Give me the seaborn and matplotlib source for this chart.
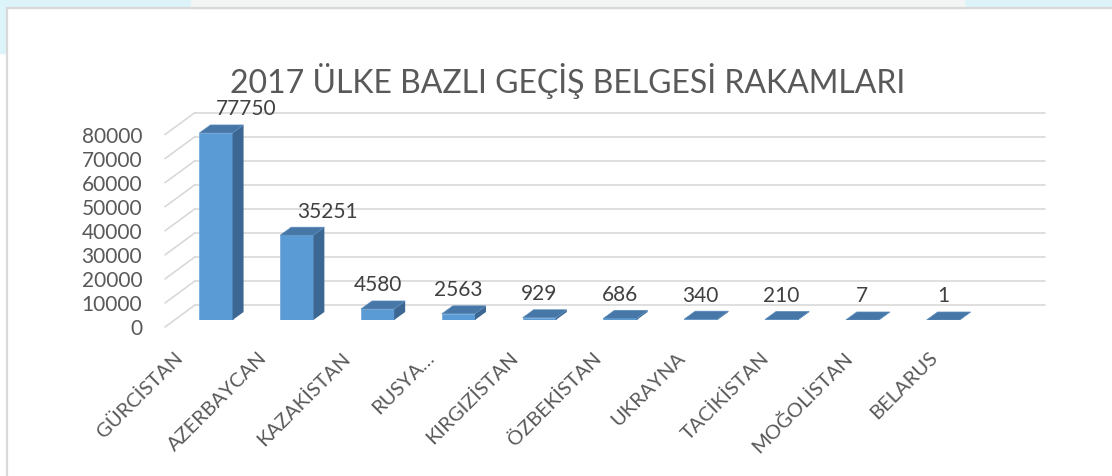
import pandas as pd
import seaborn as sns
import matplotlib.pyplot as plt
from matplotlib.patches import Polygon, Rectangle
from matplotlib.lines import Line2D
from matplotlib.transforms import ScaledTranslation

# chart data
countries = ["GÜRCİSTAN", "AZERBAYCAN", "KAZAKİSTAN", "RUSYA…", "KIRGIZİSTAN",
             "ÖZBEKİSTAN", "UKRAYNA", "TACİKİSTAN", "MOĞOLİSTAN", "BELARUS"]
counts = [77750, 35251, 4580, 2563, 929, 686, 340, 210, 7, 1]
yticks = [0, 10000, 20000, 30000, 40000, 50000, 60000, 70000, 80000]
title = "2017 ÜLKE BAZLI GEÇİŞ BELGESİ RAKAMLARI"

df = pd.DataFrame({"country": countries, "count": counts})

sns.set_theme(style="white")
plt.rcParams["font.family"] = ["Lato", "DejaVu Sans"]

W, H = 1112, 476
fig = plt.figure(figsize=(W / 100, H / 100), dpi=100)
fig.patch.set_facecolor("white")

# slide background strips + chart border
fig.patches.append(Rectangle((0, 1 - 8 / H), 1, 8 / H, transform=fig.transFigure,
                             color="#DDF3FA", zorder=0))
fig.patches.append(Rectangle((191 / W, 1 - 8 / H), (964 - 191) / W, 8 / H,
                             transform=fig.transFigure, color="#F3F5F5", zorder=0))
fig.patches.append(Rectangle((0, 1 - 53 / H), 6 / W, 45 / H, transform=fig.transFigure,
                             color="#DDF3FA", zorder=0))
fig.lines.append(Line2D([7 / W, 7 / W], [0, 1 - 7.5 / H], transform=fig.transFigure,
                        color="#D9D9D9", lw=1.6))
fig.lines.append(Line2D([7 / W, 1], [1 - 7.5 / H, 1 - 7.5 / H], transform=fig.transFigure,
                        color="#D9D9D9", lw=1.6))

# axes placed so the front plane of the bars sits where the original does
y0_px, ytop_px, xl_px, xr_px = 320, 103.5, 195, 1045
ax = fig.add_axes([xl_px / W, (H - y0_px) / H, (xr_px - xl_px) / W, (y0_px - ytop_px) / H])
ax.set_facecolor("none")

sns.barplot(data=df, x="country", y="count", color="#5B9BD5", saturation=1,
            width=0.41, ax=ax, zorder=3)
ax.set_xlim(-0.26, 10.26)
ax.set_ylim(0, 90000)

xpx = (xr_px - xl_px) / 10.52          # pixels per category
ypx = (y0_px - ytop_px) / 90000        # pixels per unit
ddx, ddy = 11 / xpx, 8 / ypx           # bar depth
gdy = 15 / ypx                         # back wall offset
xl = ax.get_xlim()[0]

# back wall gridlines and floor diagonals
for v in yticks:
    ax.plot([xl, ax.get_xlim()[1]], [v + gdy, v + gdy], color="#D9D9D9", lw=1.2,
            zorder=0, clip_on=False)
    ax.plot([xl - 30 / xpx, xl], [v - 7 / ypx, v + gdy], color="#D9D9D9", lw=1.2,
            zorder=0, clip_on=False)

# fake 3d: side and top faces from each bar
for i, (p, v) in enumerate(zip(ax.patches, counts)):
    p.set_edgecolor("#6FA8DC")
    p.set_linewidth(0.5)
    x0, w, h = p.get_x(), p.get_width(), p.get_height()
    top = [(x0, h), (x0 + w, h), (x0 + w + ddx, h + ddy), (x0 + ddx, h + ddy)]
    side = [(x0 + w, 0), (x0 + w + ddx, ddy), (x0 + w + ddx, h + ddy), (x0 + w, h)]
    ax.add_patch(Polygon(side, closed=True, facecolor="#3B6792", edgecolor="none", zorder=4))
    ax.add_patch(Polygon(top, closed=True, facecolor="#4677A7", edgecolor="#5A8CBD",
                         lw=0.5, zorder=4))
    # tall bars get their label pushed to the right, like the excel original
    shift = 22 if h > 20000 else 0
    ax.annotate(f"{v}", (x0 + w / 2, h), xytext=(shift, 17), textcoords="offset points",
                ha="center", va="center", fontsize=15, color="#404040")

for s in ax.spines.values():
    s.set_visible(False)
ax.set_xlabel("")
ax.set_ylabel("")

ax.set_yticks(yticks)
ax.set_yticklabels([str(t) for t in yticks], fontsize=15, color="#595959")
ax.tick_params(axis="y", length=0, pad=38)
for lab in ax.get_yticklabels():
    lab.set_transform(lab.get_transform() + ScaledTranslation(0, -0.07, fig.dpi_scale_trans))

ax.set_xticks(range(len(countries)))
ax.set_xticklabels(countries, rotation=45, ha="right", va="top", fontsize=14.5, color="#595959")
ax.tick_params(axis="x", length=0, pad=21)
# category labels drift right across the floor (perspective of the 3d original)
for i, lab in enumerate(ax.get_xticklabels()):
    lab.set_transform(lab.get_transform() +
                      ScaledTranslation((-30 + 3.0 * i) / 100, 0, fig.dpi_scale_trans))

fig.text(568 / W, 1 - 81 / H, title, ha="center", va="center", fontsize=23,
         color="#595959")

fig.savefig("out.png", dpi=100)
